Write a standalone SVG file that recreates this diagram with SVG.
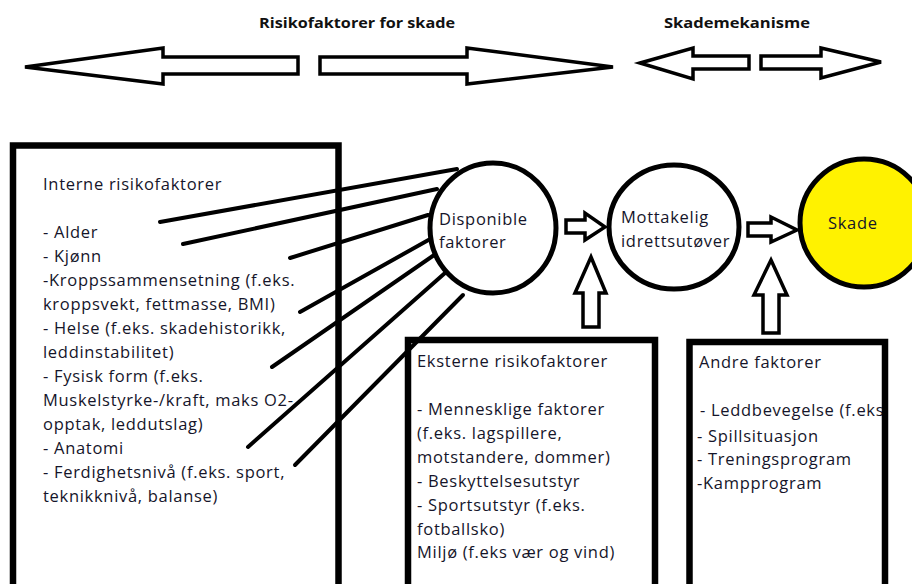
<svg xmlns="http://www.w3.org/2000/svg" width="912" height="584" viewBox="0 0 912 584">
<style>
.t{font-family:"Open Sans","Liberation Sans",sans-serif;font-size:16.5px;letter-spacing:0.7px;fill:#15152a}
.h{font-family:"Open Sans","Liberation Sans",sans-serif;font-size:15px;font-weight:bold;fill:#111}
.box{fill:#fff;stroke:#000;stroke-width:6.5}
.circ{fill:#fff;stroke:#000;stroke-width:5}
.arr{fill:#fff;stroke:#000;stroke-width:3.5;stroke-linejoin:miter}
.ln{stroke:#000;stroke-width:4;stroke-linecap:round}
</style>
<defs>
<clipPath id="andreClip"><rect x="690" y="345" width="192" height="240"/></clipPath>
</defs>
<rect width="912" height="584" fill="#fff"/>
<g id="titles">
<text class="h" x="259" y="28" textLength="196" lengthAdjust="spacingAndGlyphs">Risikofaktorer for skade</text>
<text class="h" x="664" y="28" textLength="146" lengthAdjust="spacingAndGlyphs">Skademekanisme</text>
</g>
<g id="top-arrows">
<polygon class="arr" points="25,67 163,48 163,57 298,57 298,74 163,74 163,84"/>
<polygon class="arr" points="320,57 467,57 467,48 613,67 467,84 467,74 320,74"/>
<polygon class="arr" points="640,63 693,48 693,56 749,56 749,69 693,69 693,79"/>
<polygon class="arr" points="761,56 821,56 821,48 881,62 821,78 821,69 761,69"/>
</g>
<g id="interne">
<rect class="box" x="13" y="145.5" width="325.5" height="500"/>
<text class="t" x="43" y="190">Interne risikofaktorer</text>
<text class="t" x="43" y="238">- Alder</text>
<text class="t" x="43" y="262">- Kjønn</text>
<text class="t" x="43" y="286">-Kroppssammensetning (f.eks.</text>
<text class="t" x="43" y="310">kroppsvekt, fettmasse, BMI)</text>
<text class="t" x="43" y="334">- Helse (f.eks. skadehistorikk,</text>
<text class="t" x="43" y="358">leddinstabilitet)</text>
<text class="t" x="43" y="382">- Fysisk form (f.eks.</text>
<text class="t" x="43" y="406">Muskelstyrke-/kraft, maks O2-</text>
<text class="t" x="43" y="430">opptak, leddutslag)</text>
<text class="t" x="43" y="454">- Anatomi</text>
<text class="t" x="43" y="478">- Ferdighetsnivå (f.eks. sport,</text>
<text class="t" x="43" y="502">teknikknivå, balanse)</text>
</g>
<g id="eksterne">
<rect class="box" x="408" y="340" width="247" height="300"/>
<text class="t" x="417" y="367">Eksterne risikofaktorer</text>
<text class="t" x="417" y="415">- Mennesklige faktorer</text>
<text class="t" x="417" y="439">(f.eks. lagspillere,</text>
<text class="t" x="417" y="463">motstandere, dommer)</text>
<text class="t" x="417" y="487">- Beskyttelsesutstyr</text>
<text class="t" x="417" y="511">- Sportsutstyr (f.eks.</text>
<text class="t" x="417" y="535">fotballsko)</text>
<text class="t" x="417" y="558">Miljø (f.eks vær og vind)</text>
</g>
<g id="andre">
<rect class="box" x="689.5" y="342" width="195.5" height="300"/>
<text class="t" x="699" y="368">Andre faktorer</text>
<g clip-path="url(#andreClip)">
<text class="t" x="700" y="416">- Leddbevegelse (f.eks</text>
</g>
<text class="t" x="697" y="442">- Spillsituasjon</text>
<text class="t" x="697" y="465">- Treningsprogram</text>
<text class="t" x="697" y="489">-Kampprogram</text>
</g>
<g id="connectors">
<line class="ln" x1="160" y1="222" x2="457" y2="169"/>
<line class="ln" x1="183" y1="244" x2="437" y2="189"/>
<line class="ln" x1="290" y1="258" x2="428" y2="215"/>
<line class="ln" x1="300" y1="312" x2="432" y2="238"/>
<line class="ln" x1="272" y1="367" x2="437" y2="253"/>
<line class="ln" x1="248" y1="447" x2="445" y2="273"/>
<line class="ln" x1="295" y1="465" x2="463" y2="295"/>
<polygon class="arr" points="566,220 585,220 585,213 605,227 585,240 585,233 566,233"/>
<polygon class="arr" points="748,223 771,223 771,217 797,230 771,242 771,236 748,236"/>
<polygon class="arr" points="591,257 606,293 599,293 599,327 583,327 583,293 575,293"/>
<polygon class="arr" points="771,260 787,295 779,295 779,333 763,333 763,295 754,295"/>
</g>
<g id="disponible">
<ellipse class="circ" cx="493" cy="228" rx="63" ry="65"/>
<text class="t" x="439" y="225">Disponible</text>
<text class="t" x="439" y="248">faktorer</text>
</g>
<g id="mottakelig">
<ellipse class="circ" cx="674" cy="227" rx="65" ry="62"/>
<text class="t" x="621" y="223">Mottakelig</text>
<text class="t" x="621" y="247">idrettsutøver</text>
</g>
<g id="skade">
<ellipse class="circ" cx="864" cy="223" rx="64" ry="64" style="fill:#fff200"/>
<text class="t" x="828" y="229">Skade</text>
</g>
</svg>
